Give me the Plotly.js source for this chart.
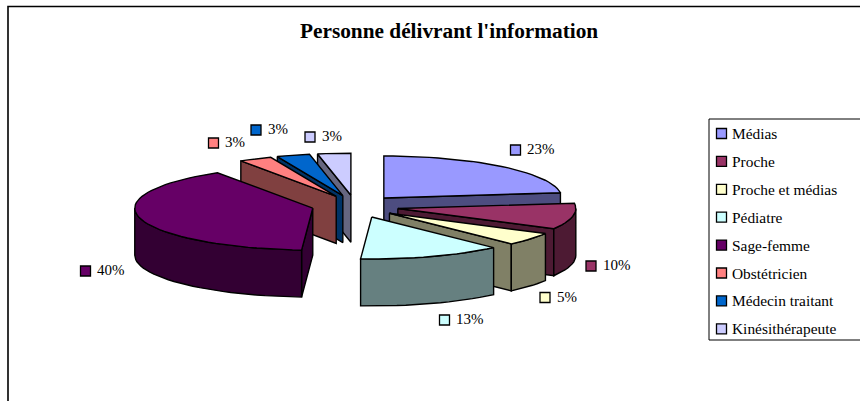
<!DOCTYPE html>
<html>
<head>
<meta charset="utf-8">
<script src="https://cdn.plot.ly/plotly-3.0.1.min.js"></script>
<style>
  html, body { margin: 0; padding: 0; background: #fff; }
  #chart { width: 860px; height: 401px; }
</style>
</head>
<body>
<div id="chart"></div>
<script>
const categories = ['Médias', 'Proche', 'Proche et médias', 'Pédiatre', 'Sage-femme', 'Obstétricien', 'Médecin traitant', 'Kinésithérapeute'];
const shares = [23, 10, 5, 13, 40, 3, 3, 3];
const topColors = ['#9999ff', '#993366', '#ffffcc', '#ccffff', '#660066', '#ff8080', '#0066cc', '#ccccff'];
const sideColors = ['#4d4d80', '#4d1a33', '#808066', '#668080', '#330033', '#804040', '#003366', '#666680'];
const drawOrder = [0, 1, 2, 3, 7, 6, 5, 4];

// pie geometry, in page pixels
const pie = { cx: 355, cy: 206.4, rx: 178, ry: 42, depth: 47, pull: 43.6, pullFlat: 0.258 };
const nudgeX = [0, 0, 0, 2, 0, 1, 0, 0];
const nudgeY = [0, 0, 0, 0, -1, 0, 0, 0];
const labelX = [510.5, 586, 540, 439.5, 80.5, 208.5, 251, 305];
const labelY = [150, 266, 297.5, 320, 271, 143, 130, 137];
const font = 'Liberation Serif, Times New Roman, serif';

const rad = (deg) => deg * Math.PI / 180;

function rimPoints(c, from, to) {
  const steps = Math.max(2, Math.ceil((to - from) / 3));
  return Array.from({ length: steps + 1 }, (_, i) => {
    const a = rad(from + (to - from) * i / steps);
    return [c[0] + pie.rx * Math.sin(a), c[1] - pie.ry * Math.cos(a)];
  });
}

function face(points, fill) {
  return {
    type: 'scatter',
    mode: 'lines',
    x: points.map((p) => p[0]).concat(points[0][0]),
    y: points.map((p) => p[1]).concat(points[0][1]),
    fill: 'toself',
    fillcolor: fill,
    line: { color: '#000', width: 1.4 },
    hoverinfo: 'skip',
    showlegend: false,
  };
}

const drop = (points) => points.map((p) => [p[0], p[1] + pie.depth]).reverse();

// angle bounds clockwise from the top, one slice after the other
let running = 0;
const bounds = shares.map((share) => {
  const from = running * 3.6;
  running += share;
  return [from, running * 3.6];
});

function sliceFaces(i) {
  const [from, to] = bounds[i];
  const mid = rad((from + to) / 2);
  const c = [
    pie.cx + pie.pull * Math.sin(mid) + nudgeX[i],
    pie.cy - pie.pull * pie.pullFlat * Math.cos(mid) + nudgeY[i],
  ];
  const rim = rimPoints(c, from, to);
  const faces = [];
  if (Math.sin(rad(from)) < -1e-6) {
    const edge = [c, rim[0]];
    faces.push(face(edge.concat(drop(edge)), sideColors[i]));
  }
  if (Math.sin(rad(to)) > 1e-6) {
    const edge = [c, rim[rim.length - 1]];
    faces.push(face(edge.concat(drop(edge)), sideColors[i]));
  }
  const wallFrom = Math.max(from, 90);
  const wallTo = Math.min(to, 270);
  if (wallFrom < wallTo) {
    const arc = rimPoints(c, wallFrom, wallTo);
    faces.push(face(arc.concat(drop(arc)), sideColors[i]));
  }
  faces.push(face([c].concat(rim), topColors[i]));
  return faces;
}

const traces = drawOrder.flatMap(sliceFaces);

const square = (x, y, i) => ({
  type: 'rect', xref: 'x', yref: 'y',
  x0: x, x1: x + 10, y0: y - 5, y1: y + 5,
  fillcolor: topColors[i],
  line: { color: '#000', width: 1.3 },
});

const shapes = [
  // chart frame, cut by the page on the right and at the bottom
  { type: 'rect', xref: 'x', yref: 'y', x0: 8, x1: 870, y0: 6.5, y1: 410, line: { color: '#000', width: 1.6 } },
  { type: 'rect', xref: 'x', yref: 'y', x0: 709, x1: 870, y0: 119, y1: 340, line: { color: '#000', width: 1 } },
];
const annotations = [{
  text: "<b>Personne délivrant l'information</b>",
  x: 449, y: 31, xref: 'x', yref: 'y', showarrow: false,
  font: { family: font, size: 21.3, color: '#000' },
}];

categories.forEach((name, i) => {
  const rowY = 133.5 + i * 27.9;
  shapes.push(square(716.5, rowY, i));
  annotations.push({
    text: name, x: 730, y: rowY, xref: 'x', yref: 'y', xanchor: 'left', showarrow: false,
    font: { family: font, size: 15.4, color: '#000' },
  });
  shapes.push(square(labelX[i], labelY[i], i));
  annotations.push({
    text: shares[i] + '%', x: labelX[i] + 14.5, y: labelY[i] - 1, xref: 'x', yref: 'y', xanchor: 'left', showarrow: false,
    font: { family: font, size: 15, color: '#000' },
  });
});

const hiddenAxis = { visible: false, fixedrange: true };
Plotly.newPlot('chart', traces, {
  width: 860,
  height: 401,
  margin: { l: 0, r: 0, t: 0, b: 0 },
  paper_bgcolor: '#fff',
  plot_bgcolor: '#fff',
  showlegend: false,
  xaxis: { ...hiddenAxis, range: [0, 860] },
  yaxis: { ...hiddenAxis, range: [401, 0] },
  shapes,
  annotations,
}, { displayModeBar: false, staticPlot: true });
</script>
</body>
</html>
